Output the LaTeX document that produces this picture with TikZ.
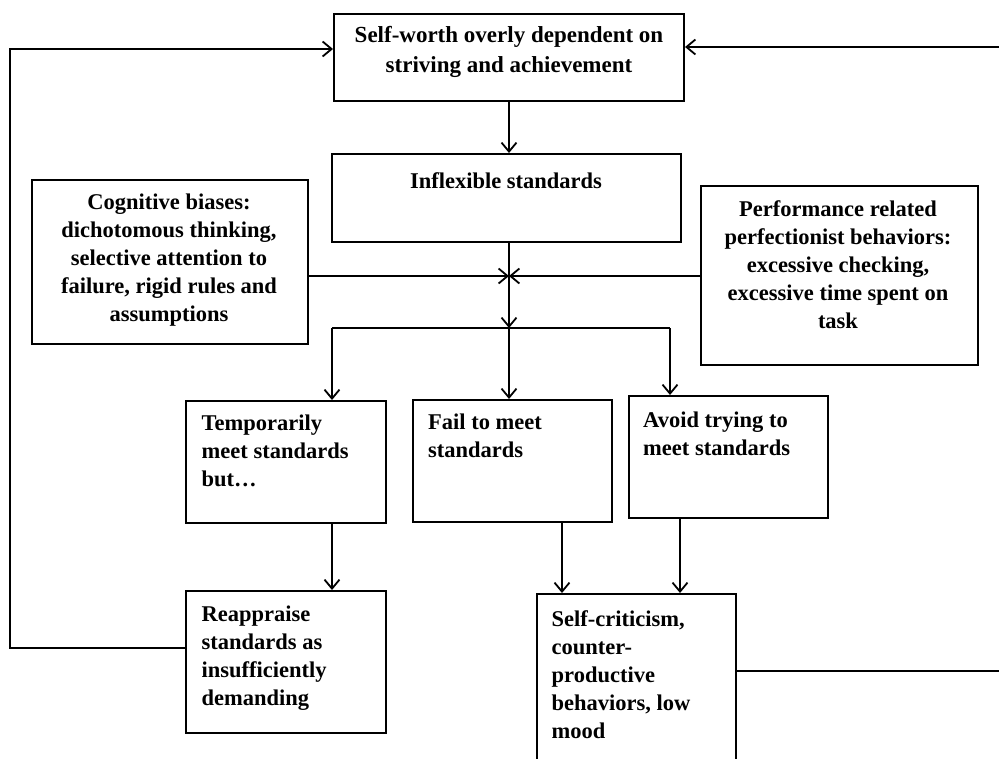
\documentclass[tikz,border=0pt]{standalone}
\usepackage{fontspec}
\setmainfont{Liberation Serif}
\usetikzlibrary{arrows.meta}
\begin{document}
\begin{tikzpicture}[x=1pt,y=-1pt,
  box/.style={draw, line width=2pt, inner sep=0pt, anchor=north west},
  txt/.style={inner sep=0pt, font=\fontsize{22.5}{28}\selectfont\bfseries,
    execute at begin node=\strut, execute at end node=\strut},
  ctxt/.style={txt, align=center, anchor=north},
  ltxt/.style={txt, align=left, anchor=north west},
  conn/.style={line width=2pt},
  arr/.style={conn, -{Straight Barb[length=9pt,width=15pt,line width=1.8pt]}}]

\fill[white] (0,0) rectangle (999,758);
\path[use as bounding box] (0,0) rectangle (999,758);
\clip (0,0) rectangle (999,758);

% boxes
\node[box, minimum width=350, minimum height=87]  (top)   at (333,13)  {};
\node[box, minimum width=349, minimum height=88]  (infl)  at (331,153) {};
\node[box, minimum width=276, minimum height=164] (cog)   at (31,179)  {};
\node[box, minimum width=277, minimum height=179] (perf)  at (700,185) {};
\node[box, minimum width=200, minimum height=122] (temp)  at (185,400) {};
\node[box, minimum width=199, minimum height=122] (fail)  at (412,399) {};
\node[box, minimum width=199, minimum height=122] (avoid) at (628,395) {};
\node[box, minimum width=200, minimum height=142] (reap)  at (185,590) {};
\node[box, minimum width=199, minimum height=220] (self)  at (536,593) {};

% box texts
\node[ctxt, font=\fontsize{23}{30}\selectfont\bfseries] (topT) at (509,26)
  {Self-worth overly dependent on\\striving and achievement};
\node[ctxt] (inflT) at (506,169) {Inflexible standards};
\node[ctxt] (cogT)  at (169,193.5) {Cognitive biases:\\dichotomous thinking,\\selective attention to\\failure, rigid rules and\\assumptions};
\node[ctxt] (perfT) at (838,200.5) {Performance related\\perfectionist behaviors:\\excessive checking,\\excessive time spent on\\task};
\node[ltxt] (tempT)  at (201.5,415) {Temporarily\\meet standards\\but…};
\node[ltxt] (failT)  at (428,414) {Fail to meet\\standards};
\node[ltxt] (avoidT) at (643,412) {Avoid trying to\\meet standards};
\node[ltxt] (reapT)  at (201.5,605.5) {Reappraise\\standards as\\insufficiently\\demanding};
\node[ltxt] (selfT)  at (551.5,610) {Self-criticism,\\counter-\\productive\\behaviors, low\\mood};

% junction points
\coordinate (j1) at (509,276);
\coordinate (j2) at (509,328);
\coordinate (bl) at (332,328);
\coordinate (br) at (670,328);
\coordinate (fx) at (562,0);
\coordinate (ax) at (680,0);
\coordinate (ll) at (10,648);
\coordinate (lt) at (10,49);
\coordinate (rl) at (1015,671);
\coordinate (rt) at (1015,47);

% main flow
\draw[arr] (top.south -| j1) -- (infl.north -| j1);
\draw[conn] (infl.south -| j1) -- (j1);
\draw[arr] (cog.east |- j1) -- (j1);
\draw[arr] (perf.west |- j1) -- (j1);
\draw[arr] (j1) -- (j2);
\draw[conn] (bl) -- (br);
\draw[arr] (bl) -- (temp.north -| bl);
\draw[arr] (j2) -- (fail.north -| j2);
\draw[arr] (br) -- (avoid.north -| br);
\draw[arr] (temp.south -| bl) -- (reap.north -| bl);
\draw[arr] (fail.south -| fx) -- (self.north -| fx);
\draw[arr] (avoid.south -| ax) -- (self.north -| ax);

% feedback loops
\draw[arr] (reap.west |- ll) -- (ll) -- (lt) -- (top.west |- lt);
\draw[arr] (self.east |- rl) -- (rl) -- (rt) -- (top.east |- rt);
\end{tikzpicture}
\end{document}
